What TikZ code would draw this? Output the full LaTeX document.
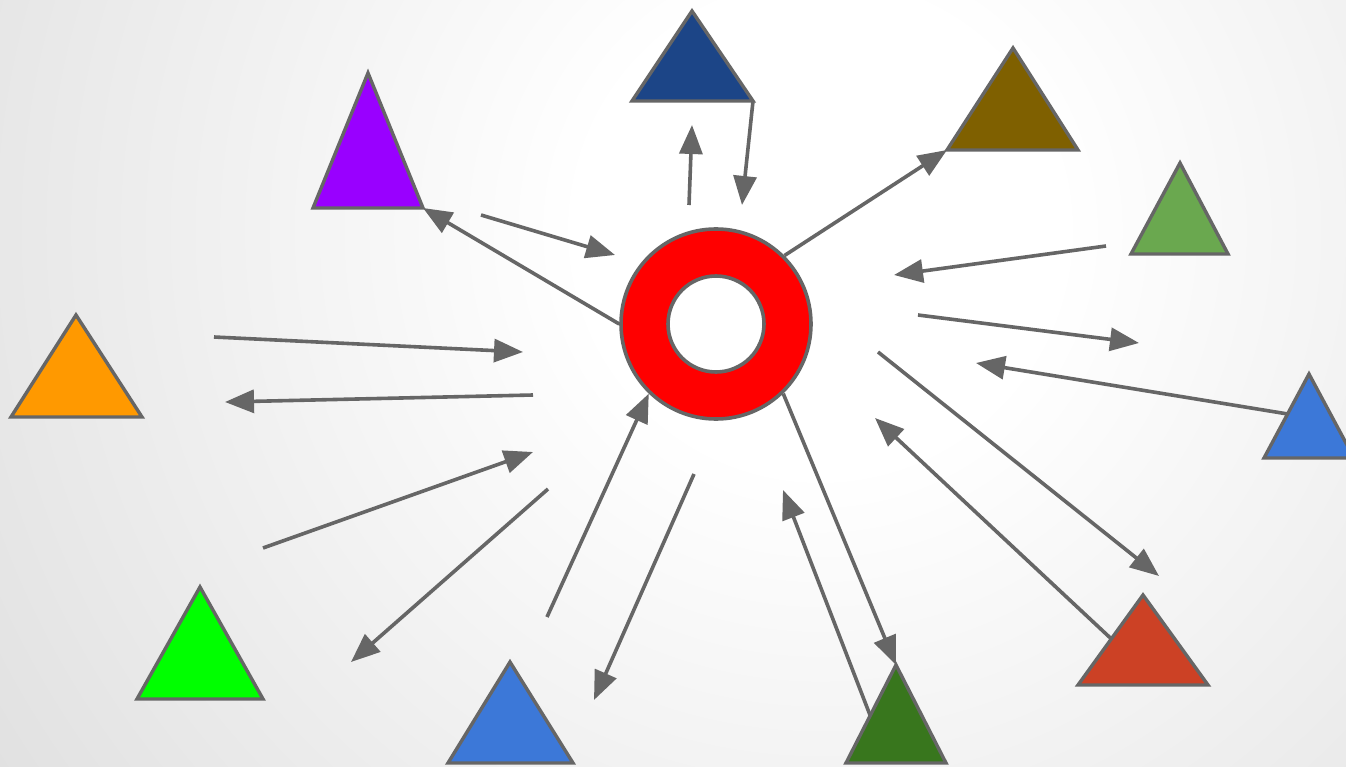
\documentclass[tikz,border=0pt]{standalone}
\usetikzlibrary{arrows.meta}
\definecolor{RSgray}{HTML}{666666}
\definecolor{RSred}{HTML}{FF0000}
\definecolor{RSnavy}{HTML}{1C4587}
\definecolor{RSpurple}{HTML}{9900FF}
\definecolor{RSolive}{HTML}{7F6000}
\definecolor{RSsage}{HTML}{6AA84F}
\definecolor{RSorange}{HTML}{FF9900}
\definecolor{RSblue}{HTML}{3C78D8}
\definecolor{RSlime}{HTML}{00FF00}
\definecolor{RSforest}{HTML}{38761D}
\definecolor{RSbrick}{HTML}{CC4125}
\pgfdeclareradialshading{backdrop}{\pgfpoint{0bp}{0bp}}{%
  color(0bp)=(white); color(6bp)=(white); color(25bp)=(black!12); color(50bp)=(black!12)}
\pgfdeclarelayer{back}
\pgfsetlayers{back,main}
% one coloured triangle: name, fill, apex, base left, base right
\newcommand{\peak}[5]{%
  \filldraw[peakline,fill=#2] (#3) coordinate (#1-top) -- (#5) coordinate (#1-right)
    -- (#4) coordinate (#1-left) -- cycle;}

\begin{document}
\begin{tikzpicture}[
  x=1pt,y=-1pt,
  peakline/.style={draw=RSgray,line width=3.4pt},
  hoop/.style={circle,draw=RSgray,line width=3.6pt,inner sep=0pt},
  link/.style={draw=RSgray,line width=3.6pt,-{Triangle[length=29pt,width=23pt]}}
]
\useasboundingbox (0,0) rectangle (1346,767);

% Backdrop: light towards the upper right, grey towards the far corners.
\begin{pgfonlayer}{back}
  \begin{scope}
    \clip (0,0) rectangle (1346,767);
    \shade[shading=backdrop] (-180,-770) rectangle (1820,1230);
  \end{scope}
\end{pgfonlayer}

% The hub.
\node[hoop,fill=RSred,minimum size=190pt] (ring) at (716,324) {};
\node[hoop,fill=white,minimum size=96pt] (hole) at (ring.center) {};

% Satellites, clockwise from the top.
\peak{navy}{RSnavy}{692,11}{632,101}{753,101}
\peak{olive}{RSolive}{1013,48}{947,150}{1078,150}
\peak{sage}{RSsage}{1180,163}{1131,254}{1228,254}
\peak{sky}{RSblue}{1309,374}{1264,458}{1354,458}
\peak{brick}{RSbrick}{1143,595}{1078,685}{1208,685}
\peak{forest}{RSforest}{896,665}{846,763}{946,763}
\peak{azure}{RSblue}{510,662}{448,763}{573,763}
\peak{lime}{RSlime}{200,587}{137,699}{263,699}
\peak{orange}{RSorange}{76,315}{11,417}{142,417}
\peak{purple}{RSpurple}{368,73}{313,208}{423,208}

% Arrows sit under the shapes.
\begin{pgfonlayer}{back}
  \draw[link] (689,205) -- (692,125);
  \draw[link] (navy-right) -- (742,205);
  \draw[link] (ring.45) -- (olive-left);
  \draw[link] (1106,246) -- (894,275);
  \draw[link] (918,315) -- (1139,343);
  \draw[link] (1300,416) -- (976,363);
  \draw[link] (878,352) -- (1159,576);
  \draw[link] (1120,647) -- (875,418);
  \draw[link] (ring.-46) -- (forest-top);
  \draw[link] (875,728) -- (783,490);
  \draw[link] (694,474) -- (594,700);
  \draw[link] (547,617) -- (ring.-134);
  \draw[link] (548,489) -- (351,662);
  \draw[link] (263,548) -- (533,452);
  \draw[link] (533,395) -- (225,402);
  \draw[link] (214,337) -- (523,352);
  \draw[link] (ring.west) -- (purple-right);
  \draw[link] (481,215) -- (615,255);
\end{pgfonlayer}

\end{tikzpicture}
\end{document}
